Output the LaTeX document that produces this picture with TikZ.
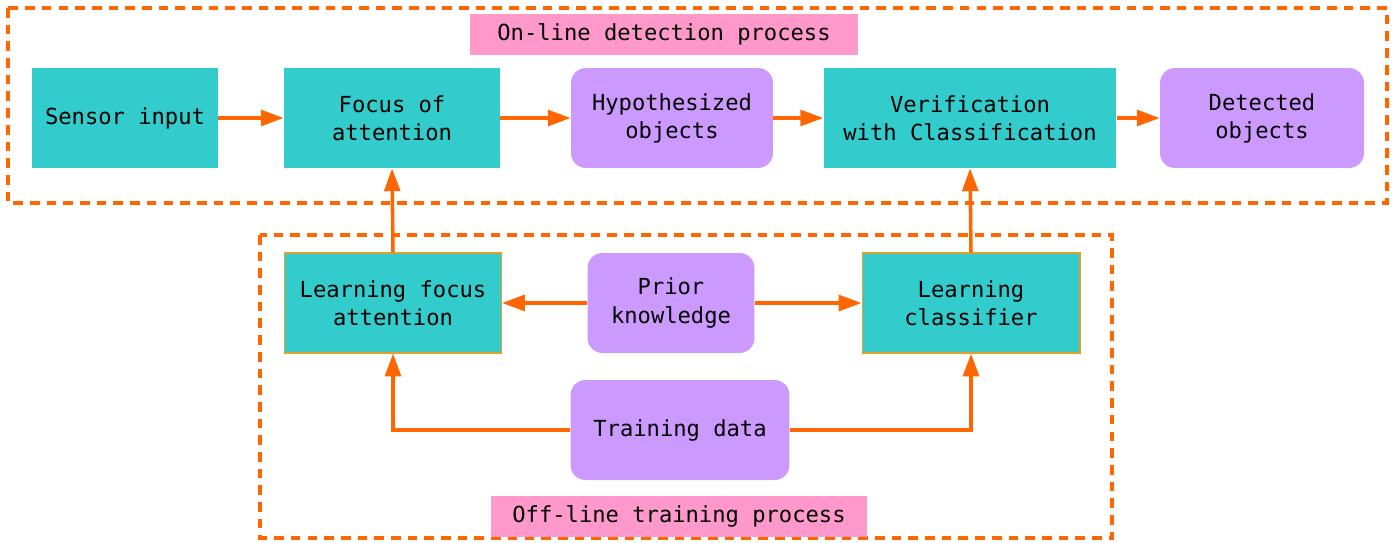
\documentclass[tikz,border=0pt]{standalone}
\usepackage{fontspec}
\setmainfont{DejaVu Sans Mono}
\usetikzlibrary{arrows.meta,positioning}
\definecolor{myteal}{RGB}{51,204,204}
\definecolor{mypurple}{RGB}{204,153,255}
\definecolor{mypink}{RGB}{255,153,204}
\definecolor{myorange}{RGB}{255,102,0}
\definecolor{mygold}{RGB}{225,160,40}

\begin{document}
\begin{tikzpicture}[x=0.02cm,y=-0.02cm,font=\fontsize{12.6}{16}\selectfont,
  stage/.style={fill=myteal,align=center,minimum height=2cm,inner sep=0pt},
  learn/.style={stage,draw=mygold,line width=0.6pt},
  item/.style={fill=mypurple,rounded corners=0.3cm,align=center,minimum height=2cm,inner sep=0pt},
  banner/.style={fill=mypink,minimum height=0.82cm,inner sep=0pt},
  frame/.style={myorange,line width=2.3pt,dash pattern=on 5.5pt off 4pt},
  flow/.style={myorange,line width=2pt,-{Triangle[length=13pt,width=9pt]}}]
\useasboundingbox (0,0) rectangle (1398,542);

% on-line detection
\draw[frame] (8,8) rectangle (1387,203);
\node[banner,minimum width=7.76cm] (online) at (664,34) {On-line detection process};
\node[stage,minimum width=3.72cm] (sensor) at (125,118) {Sensor input};
\node[stage,minimum width=4.32cm] (focus) at (392,118) {Focus of\\attention};
\node[item,minimum width=4.04cm] (hypo) at (672,118) {Hypothesized\\objects};
\node[stage,minimum width=5.86cm] (verif) at (970,118) {Verification\\with Classification};
\node[item,minimum width=4.08cm] (detected) at (1262,118) {Detected\\objects};

% off-line training
\draw[frame] (260,235) rectangle (1112,538);
\node[banner,minimum width=7.54cm] (offline) at (679,516) {Off-line training process};
\node[learn,minimum width=4.34cm] (learnfocus) at (393,303) {Learning focus\\attention};
\node[item,minimum width=3.34cm] (prior) at (671,303) {Prior\\knowledge};
\node[learn,minimum width=4.36cm] (learnclass) at (971,303) {Learning\\classifier};
\node[item,minimum width=4.38cm] (training) at (680,430) {Training data};

\draw[flow] (sensor) -- (focus);
\draw[flow] (focus) -- (hypo);
\draw[flow] (hypo) -- (verif);
\draw[flow] (verif) -- (detected);
\draw[flow] (learnfocus.north) -- (focus.south);
\draw[flow] (learnclass.north) -- (verif.south);
\draw[flow] (prior) -- (learnfocus);
\draw[flow] (prior) -- (learnclass);
\draw[flow] (training.west) -| (learnfocus.south);
\draw[flow] (training.east) -| (learnclass.south);
\end{tikzpicture}
\end{document}
